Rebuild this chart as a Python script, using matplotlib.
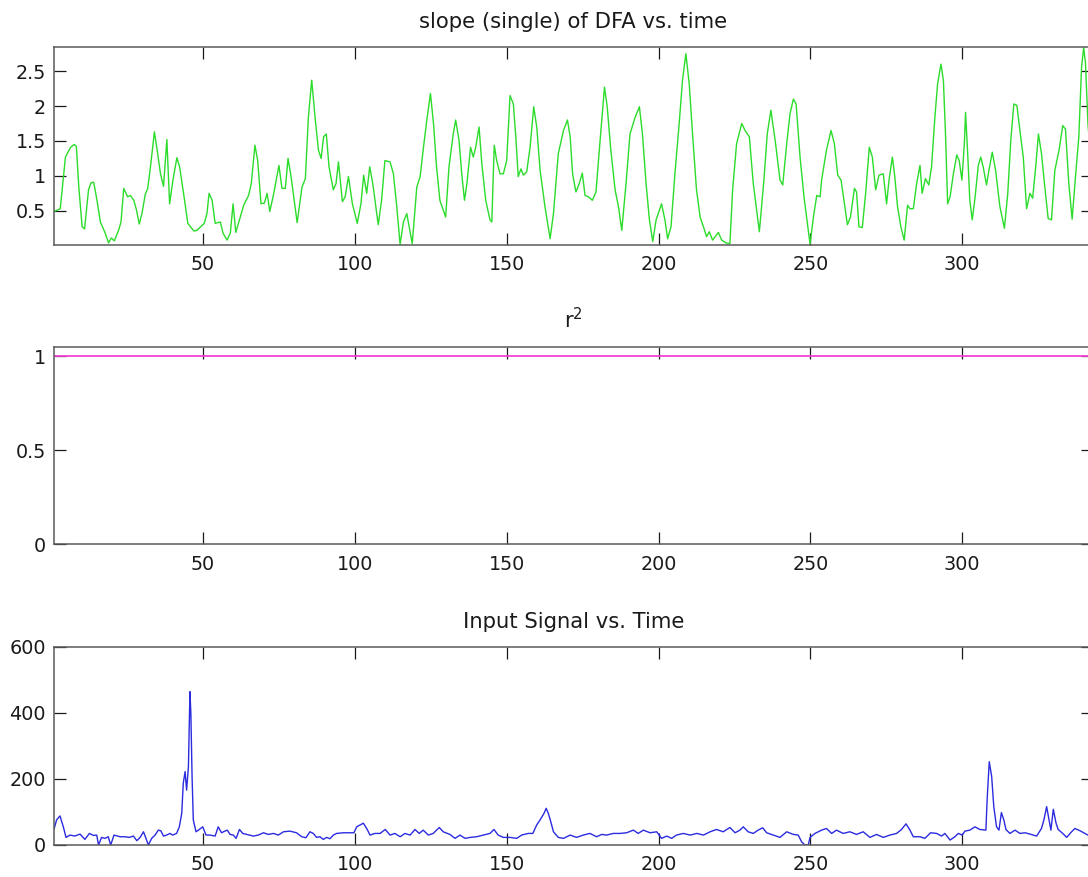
import matplotlib
matplotlib.use("Agg")
import matplotlib.pyplot as plt
import numpy as np

# ---- slope (single) of DFA vs. time ----
slope_time = [
    1.0, 3, 4.7, 6.4, 7.6, 8.3, 9.1, 10.2, 11, 12.3, 13.1, 14, 15.1, 16.2, 17.8, 18.9,
    19.8, 20.8, 22.2, 23, 23.9, 25.2, 26.1, 27.2, 28.1, 29, 29.9, 31, 31.8, 32.7, 34,
    34.9, 36, 37, 38.1, 39, 40.1, 41.4, 42.3, 43.6, 45, 47, 48, 50.4, 51.3, 52, 53, 54,
    55.7, 56.6, 57.9, 59, 59.9, 60.8, 62, 63.4, 65, 65.9, 67.1, 68, 69.1, 70.2, 71.1, 72,
    73.3, 75, 76, 77.1, 78, 79, 81, 82.6, 83.7, 84.7, 85.8, 86.9, 88, 88.9, 89.7, 90.6,
    91.5, 92.9, 93.8, 94.6, 95.9, 96.8, 97.9, 99.2, 100.8, 102, 102.9, 103.9, 104.9,
    105.9, 107.7, 108.8, 109.9, 111.6, 112.7, 113.8, 114.9, 116, 117.1, 117.9, 118.9,
    120.4, 121.5, 122.6, 123.7, 124.9, 125.9, 126.9, 128, 129.9, 131, 132.4, 133.2,
    134.3, 135.2, 136.1, 136.9, 138.1, 139, 139.8, 140.9, 141.8, 143.1, 144.5, 145.1,
    145.9, 146.7, 147.8, 148.9, 150, 151.1, 152.2, 153, 153.8, 154.7, 155.5, 156.6,
    157.7, 158.9, 159.9, 161, 162.6, 164.3, 165.4, 167, 168.7, 170, 170.9, 171.7, 172.8,
    173.9, 174.9, 175.8, 176.9, 178.2, 179.4, 180.5, 182.2, 183.1, 184.2, 185.7, 186.8,
    187.9, 189.3, 190.6, 192.3, 193.7, 194.7, 195.9, 197, 198.1, 199.2, 201, 202.1, 203,
    204.1, 205.4, 206.8, 207.9, 209, 210.1, 211.2, 212.5, 213.7, 214.8, 215.8, 216.7,
    217.8, 219.7, 220.8, 222.2, 223.5, 224.4, 225.7, 227.4, 228.5, 229.9, 231.2, 233.2,
    234.7, 235.8, 237, 238.4, 240, 240.9, 242.2, 243.3, 244.4, 245.3, 246.6, 247.9, 249,
    249.9, 251, 252.1, 253.2, 253.7, 255.3, 256.8, 257.9, 259, 260.1, 261.2, 262.2,
    263.2, 264.5, 265.2, 266, 267.1, 268.2, 269.4, 270.4, 271.5, 272.6, 274, 275.1,
    275.9, 277, 277.8, 278.7, 279.8, 280.9, 282, 282.8, 283.9, 285, 286.1, 286.8, 287.9,
    289, 289.9, 291, 291.9, 293, 293.8, 294.5, 295.2, 296, 297.1, 298.2, 299, 299.9,
    300.7, 301.1, 301.8, 302.5, 303.3, 304.2, 305.3, 306.1, 306.9, 308, 308.8, 309.9,
    311, 312.4, 313.9, 315, 316, 317, 318, 319, 320.1, 321.2, 322.3, 323.2, 324.2, 325.1,
    326.1, 327.2, 328.3, 329.4, 330.5, 331.9, 333.1, 334, 335.1, 336.2, 337.3, 338.4,
    339.3, 340, 340.6, 341.4, 342.3, 343,
]
slope_values = [
    0.49, 0.53, 1.27, 1.41, 1.45, 1.42, 0.84, 0.27, 0.24, 0.8, 0.9, 0.91, 0.65, 0.34, 0.18, 0.04,
    0.11, 0.07, 0.22, 0.34, 0.82, 0.7, 0.72, 0.65, 0.51, 0.31, 0.46, 0.74, 0.82, 1.13, 1.63,
    1.37, 1.03, 0.85, 1.52, 0.6, 0.94, 1.26, 1.13, 0.75, 0.32, 0.21, 0.22, 0.32, 0.46, 0.75, 0.65, 0.32,
    0.34, 0.18, 0.08, 0.18, 0.6, 0.19, 0.37, 0.58, 0.72, 0.89, 1.44, 1.22, 0.6, 0.61, 0.75, 0.49,
    0.75, 1.15, 0.82, 0.82, 1.25, 0.99, 0.33, 0.84, 0.96, 1.84, 2.37, 1.84, 1.37, 1.25, 1.56, 1.6,
    1.13, 0.8, 0.89, 1.2, 0.63, 0.7, 0.99, 0.6, 0.32, 0.6, 1.01, 0.75, 1.13,
    0.89, 0.3, 0.65, 1.22, 1.2, 1.03, 0.56, 0.02, 0.34, 0.46, 0.27, 0.03,
    0.84, 0.99, 1.41, 1.8, 2.18, 1.75, 1.13, 0.65, 0.41, 1.13, 1.6, 1.8,
    1.51, 1.03, 0.65, 0.89, 1.41, 1.27, 1.41, 1.7, 1.18, 0.65, 0.37, 0.34,
    1.44, 1.22, 1.03, 1.03, 1.22, 2.15, 2.03, 1.56, 0.99, 1.1, 1.01, 1.06,
    1.41, 1.99, 1.7, 1.08, 0.56, 0.1, 0.46, 1.32, 1.65, 1.8, 1.56, 1.03, 0.77,
    0.89, 1.04, 0.72, 0.7, 0.65, 0.77, 1.37, 2.27, 1.99, 1.41, 0.8, 0.56,
    0.22, 0.89, 1.6, 1.84, 1.99, 1.6, 0.89, 0.37, 0.06, 0.37, 0.6, 0.37, 0.1,
    0.27, 1.03, 1.75, 2.37, 2.75, 2.32, 1.6, 0.8, 0.41, 0.27, 0.13, 0.2,
    0.08, 0.19, 0.08, 0.04, 0.03, 0.8, 1.46, 1.75, 1.65, 1.56, 0.89, 0.2,
    0.94, 1.6, 1.94, 1.51, 0.94, 0.87, 1.46, 1.89, 2.1, 2.03, 1.27, 0.7, 0.32,
    0.02, 0.41, 0.72, 0.7, 0.94, 1.37, 1.65, 1.46, 1.01, 0.94, 0.6, 0.3,
    0.41, 0.82, 0.77, 0.27, 0.26, 0.75, 1.41, 1.27, 0.8, 1.01, 1.03, 0.6,
    0.94, 1.27, 0.99, 0.56, 0.27, 0.08, 0.58, 0.53, 0.53, 0.89, 1.15, 0.75, 0.96,
    0.87, 1.13, 1.84, 2.32, 2.6, 2.37, 1.6, 0.6, 0.7, 1.03, 1.3, 1.22, 0.94,
    1.46, 1.91, 1.32, 0.65, 0.37, 0.68, 1.15, 1.27, 1.13, 0.87, 1.08, 1.34,
    1.08, 0.56, 0.25, 0.75, 1.51, 2.03, 2.01, 1.65, 1.27, 0.53, 0.75, 0.68, 1.13, 1.6,
    1.32, 0.84, 0.39, 0.37, 1.08, 1.37, 1.72, 1.67, 0.89, 0.38, 0.99, 1.56,
    2.56, 2.84, 2.61, 1.75, 1.25, 1.3,
]

# ---- r^2 of the DFA fit ----
r2_time = [1, 343]
r2_values = [1.0, 1.0]

# ---- Input signal vs. time ----
signal_time = [
    1, 1.8, 2.9, 4, 4.9, 6.2, 7.8, 9.5, 11.1, 12.6, 13.9, 15, 15.6, 16.6, 17.7, 18.8,
    19.6, 20.7, 22.7, 24.3, 25.7, 27.1, 28.2, 29.3, 30.4, 31.1, 32, 33.1, 34.2, 35.3,
    36.1, 37, 38, 39.1, 40, 41.3, 42.2, 43, 43.5, 44.1, 44.6, 45.2, 45.7, 46, 46.4, 46.8,
    47.7, 48.8, 49.9, 51, 52.3, 54, 55, 56.1, 57.2, 58, 58.9, 60, 60.9, 62, 63.1, 64.4,
    66.6, 68.2, 69.9, 71.5, 73.2, 74.8, 76.5, 78.6, 80.8, 82.5, 83.9, 85.2, 86.3, 87.4,
    88.5, 89.6, 90.7, 91.8, 92.9, 94, 96.2, 99.7, 100.6, 102.8, 103.9, 105, 106.6,
    108.3, 110, 111.6, 113.2, 114.9, 116.5, 118.2, 119.8, 121.2, 122.5, 124.2, 125.8,
    127.8, 129.1, 131.3, 133, 134.6, 136.3, 138, 140.1, 142.3, 144.5, 145.8, 147.2,
    148.9, 151.1, 153.3, 154.9, 157.1, 158.6, 159.9, 161, 162.3, 163, 163.7, 164.5,
    165.4, 167, 168.7, 170.9, 173, 175.2, 177.4, 179.6, 181.3, 182.9, 185.1, 187.3,
    189.5, 191.7, 193.3, 195, 197.2, 199.4, 201, 202.7, 204.3, 205.9, 208.2, 210.4,
    212.6, 214.8, 217, 219.1, 221.3, 223.5, 225.2, 226.8, 227.9, 229.5, 231.2, 232.8,
    234.3, 235.6, 237.8, 240, 242.2, 244.4, 246, 247.1, 248.2, 249.3, 249.9, 251.5,
    253.7, 255.3, 257, 258.6, 260.8, 263, 265.2, 267.4, 269.6, 271.8, 274, 276.2, 278.4,
    280, 281.5, 282.8, 283.9, 286.1, 287.7, 289.6, 291.6, 293.2, 294.3, 296, 297.6,
    298.7, 300, 300.9, 302.5, 304.2, 305.8, 307.8, 308.2, 308.9, 309.7, 310.4, 311.3,
    312.1, 312.9, 313.7, 314.4, 315.7, 317.4, 319, 320.7, 322.3, 324.5, 326.1, 326.9,
    327.8, 328.7, 329.2, 330, 330.9, 331.6, 333.1, 334.4, 335.7, 337.1, 338.8, 340.4,
    341.4, 343,
]
signal_values = [
    50, 76, 88, 55, 23, 30, 27, 33, 17, 35, 29, 30, 0, 23, 20, 25,
    0, 30, 25, 25, 23, 27, 13, 23, 40, 23, 0, 20, 30, 45,
    43, 27, 30, 35, 30, 35, 55, 96, 187, 222, 166, 237, 464, 398, 207, 76,
    40, 47, 55, 30, 30, 27, 55, 37, 42, 45, 32, 30, 20, 47, 35, 32,
    27, 30, 37, 32, 35, 30, 40, 42, 37, 25, 22, 40, 35, 23,
    25, 17, 23, 19, 30, 35, 37, 37, 55, 66, 50, 30, 35,
    35, 47, 30, 35, 25, 35, 30, 47, 35, 45, 30, 35,
    53, 40, 32, 20, 30, 20, 23, 25, 30, 35, 47, 30,
    23, 23, 20, 30, 35, 35, 61, 76, 96, 111, 96, 71,
    40, 23, 20, 30, 23, 30, 35, 25, 32, 30, 35, 35,
    37, 45, 35, 45, 37, 40, 20, 27, 20, 30, 35, 30,
    35, 30, 40, 47, 40, 53, 37, 45, 55, 40, 35, 45,
    52, 37, 30, 23, 40, 32, 30, 10, 0, 0, 23, 35,
    45, 50, 35, 45, 35, 40, 32, 40, 23, 32, 23, 30, 35,
    47, 64, 45, 25, 25, 20, 37, 35, 27, 35, 15, 25,
    35, 30, 42, 45, 55, 47, 45, 136, 252, 207, 116, 55,
    45, 98, 76, 47, 35, 45, 35, 37, 33, 27, 50, 76,
    116, 71, 45, 108, 66, 47, 35, 23, 37, 50, 43, 35,
    30, 32,
]

x_ticks = [50, 100, 150, 200, 250, 300]
x_range = (1, 343)

slope_ticks = [0.5, 1, 1.5, 2, 2.5]
slope_ticklabels = ["0.5", "1", "1.5", "2", "2.5"]
r2_ticks = [0, 0.5, 1]
r2_ticklabels = ["0", "0.5", "1"]
signal_ticks = [0, 200, 400, 600]
signal_ticklabels = ["0", "200", "400", "600"]

plt.rcParams["font.family"] = ["DejaVu Sans"]
plt.rcParams["mathtext.fontset"] = "dejavusans"

W, H = 1088, 877
fig = plt.figure(figsize=(W / 100, H / 100), dpi=100)
fig.patch.set_facecolor("white")


def panel(top_px, bottom_px):
    left_px, right_px = 54.2, 1092.8
    return fig.add_axes([left_px / W, 1 - bottom_px / H,
                         (right_px - left_px) / W, (bottom_px - top_px) / H])


def style(ax, title, yticks, yticklabels, ylim):
    ax.set_xticks(x_ticks)
    ax.set_xticklabels([str(t) for t in x_ticks])
    ax.set_yticks(yticks)
    ax.set_yticklabels(yticklabels)
    # limits are applied after the ticks so they are not widened
    ax.set_xlim(*x_range)
    ax.set_ylim(*ylim)
    ax.tick_params(axis="both", direction="in", length=8.5, width=0.9,
                   color="#1a1a1a", top=True, right=True,
                   labelsize=13.8, labelcolor="#1a1a1a")
    ax.tick_params(axis="x", pad=7.5)
    ax.tick_params(axis="y", pad=6.0)
    for sp in ax.spines.values():
        sp.set_color("#5a5a5a")
        sp.set_linewidth(1.1)
    ax.set_title(title, fontsize=15.2, color="#1a1a1a", pad=13.5)


ax1 = panel(46.7, 245.0)
ax1.plot(slope_time, slope_values, color="#2bdc2b", lw=1.0)
style(ax1, "slope (single) of DFA vs. time", slope_ticks, slope_ticklabels,
      (min(slope_values) - 0.01, max(slope_values) + 0.01))

ax2 = panel(346.7, 544.3)
ax2.plot(r2_time, r2_values, color="#f044d4", lw=1.3)
style(ax2, r"r$^2$", r2_ticks, r2_ticklabels, (0, 1.05))

ax3 = panel(646.7, 845.0)
ax3.plot(signal_time, signal_values, color="#2b2be0", lw=1.0)
style(ax3, "Input Signal vs. Time", signal_ticks, signal_ticklabels, (0, 600))

fig.savefig("out.png", dpi=100, facecolor="white")
